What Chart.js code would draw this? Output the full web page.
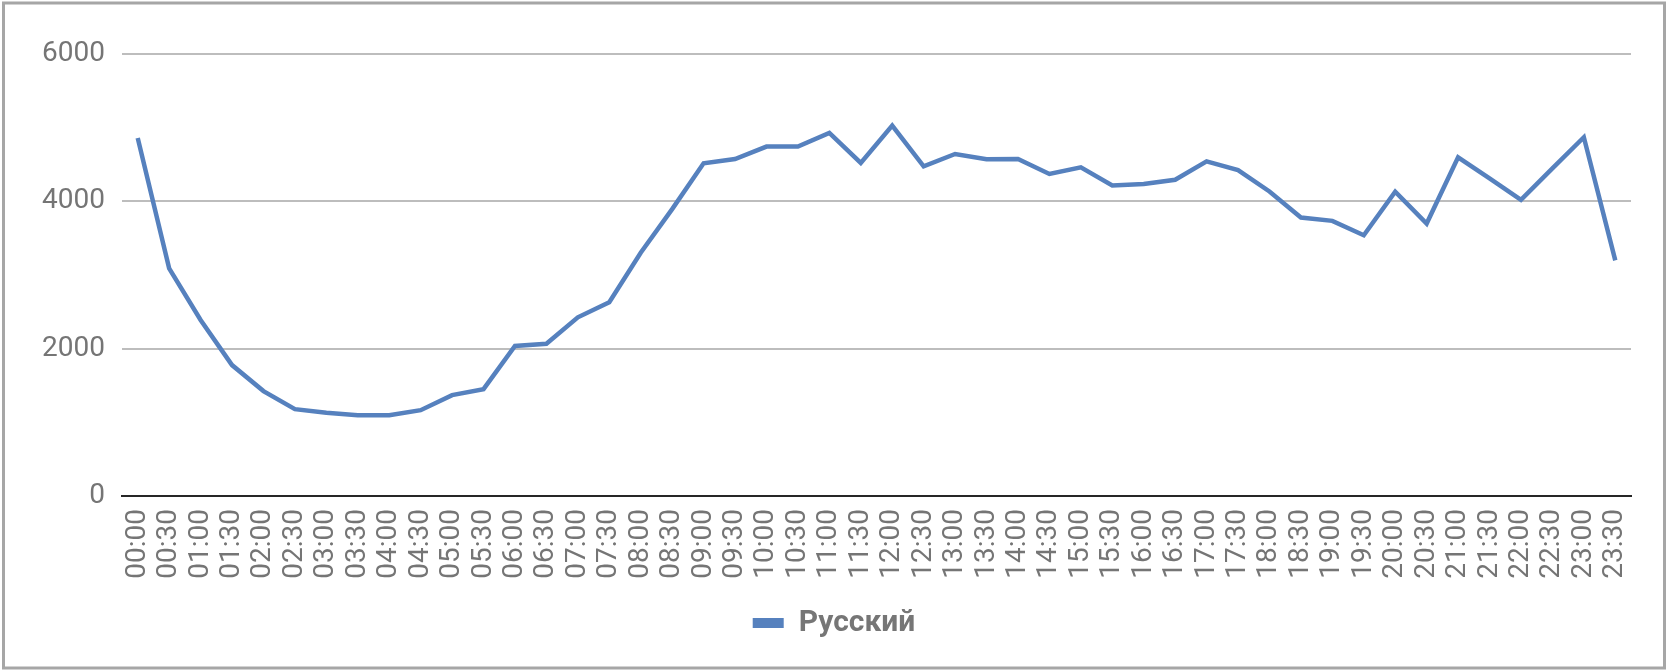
<!DOCTYPE html>
<html>
<head>
<meta charset="utf-8">
<script src="https://cdn.jsdelivr.net/npm/chart.js@4"></script>
<style>
  html, body { margin: 0; padding: 0; background: #ffffff; }
  #wrap { position: relative; width: 1668px; height: 670px; }
</style>
</head>
<body>
<div id="wrap"><canvas id="c" width="1668" height="670"></canvas></div>
<script>
const categories = [
  "00:00","00:30","01:00","01:30","02:00","02:30","03:00","03:30",
  "04:00","04:30","05:00","05:30","06:00","06:30","07:00","07:30",
  "08:00","08:30","09:00","09:30","10:00","10:30","11:00","11:30",
  "12:00","12:30","13:00","13:30","14:00","14:30","15:00","15:30",
  "16:00","16:30","17:00","17:30","18:00","18:30","19:00","19:30",
  "20:00","20:30","21:00","21:30","22:00","22:30","23:00","23:30"
];
const seriesName = "Русский";
const russianValues = [
  4860, 3090, 2390, 1777, 1424, 1179, 1129, 1097,
  1097, 1165, 1369, 1451, 2036, 2067, 2426, 2631,
  3303, 3894, 4516, 4575, 4743, 4743, 4930, 4521,
  5029, 4475, 4643, 4571, 4575, 4371, 4461, 4216,
  4235, 4293, 4543, 4425, 4134, 3780, 3735, 3539,
  4130, 3698, 4598, 4312, 4021, 4448, 4870, 3199
];
const yTicks = [0, 2000, 4000, 6000];

const frame = {
  id: 'frame',
  afterDraw(chart) {
    const ctx = chart.ctx;
    ctx.save();
    ctx.strokeStyle = '#a6a6a6';
    ctx.lineWidth = 3;
    ctx.strokeRect(3.5, 3, 1661, 665);
    ctx.restore();
  }
};

new Chart(document.getElementById('c'), {
  type: 'line',
  data: {
    labels: categories,
    datasets: [{
      label: seriesName,
      data: russianValues,
      borderColor: '#5681be',
      backgroundColor: '#5681be',
      borderWidth: 4.5,
      pointRadius: 0,
      tension: 0,
      fill: false
    }]
  },
  options: {
    responsive: false,
    animation: false,
    devicePixelRatio: 1,
    layout: { padding: { left: 0, right: 0, top: 54, bottom: 22 } },
    plugins: {
      tooltip: { enabled: false },
      legend: {
        position: 'bottom',
        labels: {
          boxWidth: 31,
          boxHeight: 10,
          padding: 12,
          color: '#767676',
          font: { family: 'Roboto', size: 30, weight: 'bold' },
          generateLabels(chart) {
            return chart.data.datasets.map((ds, i) => ({
              text: ds.label,
              fillStyle: ds.borderColor,
              strokeStyle: ds.borderColor,
              lineWidth: 0,
              fontColor: '#767676',
              datasetIndex: i
            }));
          }
        }
      }
    },
    scales: {
      x: {
        offset: true,
        grid: { display: false, drawTicks: false },
        border: { display: true, color: '#262626', width: 2 },
        ticks: {
          color: '#757575',
          font: { family: 'Roboto', size: 28 },
          minRotation: 90,
          maxRotation: 90,
          autoSkip: false,
          padding: 13
        },
        afterFit(scale) { scale.height = 100; }
      },
      y: {
        min: 0,
        max: 6000,
        afterBuildTicks(scale) { scale.ticks = yTicks.map(v => ({ value: v })); },
        grid: {
          color: (c) => c.tick && c.tick.value === 0 ? 'rgba(0,0,0,0)' : '#bdbdbd',
          lineWidth: 2,
          drawTicks: false
        },
        border: { display: false },
        ticks: {
          color: '#757575',
          font: { family: 'Roboto', size: 28 },
          padding: 17,
          callback: (v) => String(v)
        },
        afterFit(scale) { scale.width = 122; }
      },
      yRight: {
        position: 'right',
        min: 0,
        max: 6000,
        grid: { display: false, drawTicks: false },
        border: { display: false },
        ticks: { display: false },
        afterFit(scale) { scale.width = 37; }
      }
    }
  },
  plugins: [frame]
});
</script>
</body>
</html>
